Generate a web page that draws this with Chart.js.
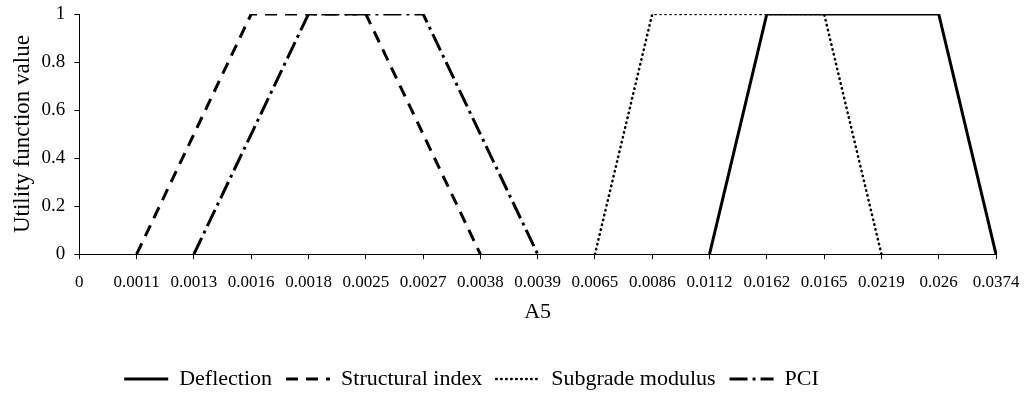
<!DOCTYPE html>
<html>
<head>
<meta charset="utf-8">
<script src="https://cdn.jsdelivr.net/npm/chart.js@4/dist/chart.umd.min.js"></script>
<style>
  html, body { margin: 0; padding: 0; background: #fff; }
  #wrap { width: 1028px; height: 393px; }
</style>
</head>
<body>
<div id="wrap"><canvas id="grafico"></canvas></div>
<script>
// Categorias do eixo X (A5)
const categorias = ['0', '0.0011', '0.0013', '0.0016', '0.0018', '0.0025', '0.0027', '0.0038',
  '0.0039', '0.0065', '0.0086', '0.0112', '0.0162', '0.0165', '0.0219', '0.026', '0.0374'];

// Valores de cada série (null = sem ponto)
const deflection = [null, null, null, null, null, null, null, null, null, null, null, 0, 1, null, null, 1, 0];
const structuralIndex = [null, 0, null, 1, null, 1, null, 0, null, null, null, null, null, null, null, null, null];
const subgradeModulus = [null, null, null, null, null, null, null, null, null, 0, 1, null, null, 1, 0, null, null];
const pci = [null, null, 0, null, 1, null, 1, null, 0, null, null, null, null, null, null, null, null];

const ticksY = [0, 0.2, 0.4, 0.6, 0.8, 1];

const fonte = 'Liberation Serif, Times New Roman, serif';

function serie(rotulo, dados, tracejado, largura, ponta) {
  return {
    label: rotulo,
    data: dados,
    borderColor: '#000',
    backgroundColor: '#000',
    borderWidth: largura,
    borderDash: tracejado,
    borderCapStyle: ponta || 'butt',
    pointRadius: 0,
    spanGaps: true,
    tension: 0,
    fill: false
  };
}

// Desloca a legenda um pouco para a esquerda e para baixo, como no original
const moverLegenda = {
  id: 'moverLegenda',
  afterLayout: function(chart) {
    const leg = chart.legend;
    leg.left -= 31; leg.right -= 31;
    leg.top += 7; leg.bottom += 7;
  }
};

new Chart(document.getElementById('grafico').getContext('2d'), {
  type: 'line',
  data: {
    labels: categorias,
    datasets: [
      serie('Deflection', deflection, [], 3),
      serie('Structural index', structuralIndex, [12, 8], 3),
      serie('Subgrade modulus', subgradeModulus, [0.5, 4.5], 2.5, 'round'),
      serie('PCI', pci, [18, 5, 3, 5], 3)
    ]
  },
  options: {
    responsive: true,
    maintainAspectRatio: false,
    animation: false,
    layout: { padding: { top: 14, right: 32, left: 9, bottom: 0 } },
    scales: {
      x: {
        offset: false,
        afterFit: function(eixo) { eixo.paddingLeft = 0; eixo.paddingRight = 0; },
        grid: { display: true, drawOnChartArea: false, drawTicks: true, tickLength: 5, color: '#000' },
        border: { display: true, color: '#000', width: 1 },
        ticks: { color: '#000', font: { family: fonte, size: 17 }, maxRotation: 0, autoSkip: false, padding: 13 },
        title: { display: true, text: 'A5', color: '#000', font: { family: fonte, size: 22 }, padding: { top: -7, bottom: 22 } }
      },
      y: {
        min: 0,
        max: 1,
        afterBuildTicks: function(eixo) { eixo.ticks = ticksY.map(function(v) { return { value: v }; }); },
        afterFit: function(eixo) { eixo.paddingTop = 0; eixo.paddingBottom = 0; },
        grid: { display: true, drawOnChartArea: false, drawTicks: true, tickLength: 5, color: '#000' },
        border: { display: true, color: '#000', width: 1 },
        ticks: { color: '#000', font: { family: fonte, size: 19 }, padding: 9,
          callback: function(v) { return String(Math.round(v * 10) / 10); } },
        title: { display: true, text: 'Utility function value', color: '#000', font: { family: fonte, size: 23 }, padding: { top: 0, bottom: -4 } }
      }
    },
    plugins: {
      legend: {
        position: 'bottom',
        labels: {
          color: '#000',
          font: { family: fonte, size: 22 },
          usePointStyle: true,
          pointStyleWidth: 44,
          boxHeight: 16,
          padding: 14,
          // Amostras de linha com o mesmo tracejado de cada série
          generateLabels: function(chart) {
            return chart.data.datasets.map(function(ds, i) {
              return {
                text: ds.label,
                fillStyle: '#000',
                strokeStyle: '#000',
                fontColor: '#000',
                lineWidth: ds.borderWidth,
                lineDash: ds.borderDash,
                lineCap: ds.borderCapStyle,
                pointStyle: 'line',
                hidden: false,
                datasetIndex: i
              };
            });
          }
        }
      },
      tooltip: { enabled: false }
    }
  },
  plugins: [moverLegenda]
});
</script>
</body>
</html>
